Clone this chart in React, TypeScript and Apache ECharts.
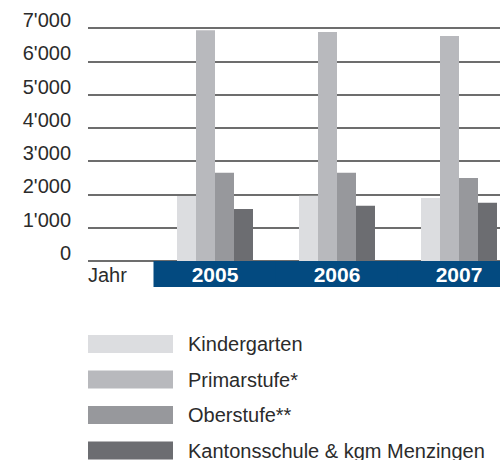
import React, { useEffect, useRef } from "react";
import * as echarts from "echarts";

const years = ["2005", "2006", "2007"];
const seriesNames = ["Kindergarten", "Primarstufe*", "Oberstufe**", "Kantonsschule & kgm Menzingen"];
const kindergarten = [1950, 1960, 1890];
const primarstufe = [6930, 6880, 6760];
const oberstufe = [2650, 2650, 2490];
const kantonsschule = [1560, 1660, 1750];
const yTicks = [0, 1000, 2000, 3000, 4000, 5000, 6000, 7000];
const yTickLabels = ["0", "1'000", "2'000", "3'000", "4'000", "5'000", "6'000", "7'000"];
const colors = ["#dcdde0", "#b8b9bd", "#97989c", "#6c6d71"];

const FONT = "Liberation Sans";
const TEXT = "#2b2b2b";

export default function App() {
  const ref = useRef<HTMLDivElement>(null);
  useEffect(() => {
    document.body.style.margin = "0";
    document.body.style.overflow = "hidden";
    const chart = echarts.init(ref.current!, null, { renderer: "svg" });
    const values = [kindergarten, primarstufe, oberstufe, kantonsschule];
    chart.setOption({
      animation: false,
      grid: [
        { left: 88, right: 0, top: 28, height: 233, outerBoundsMode: "none" },
        { left: 154, width: 366, top: 28, height: 233, outerBoundsMode: "none" },
      ],
      xAxis: [
        { type: "value", gridIndex: 0, show: false, min: 0, max: 1 },
        {
          type: "category",
          gridIndex: 1,
          data: years,
          axisLine: { show: false },
          axisTick: { show: false },
          axisLabel: {
            interval: 0,
            margin: 0,
            color: "#ffffff",
            fontFamily: FONT,
            fontWeight: "bold",
            fontSize: 21,
            backgroundColor: "#034a80",
            width: 123,
            height: 26,
            lineHeight: 26,
            align: "center",
            verticalAlign: "top",
            hideOverlap: false,
          },
        },
      ],
      yAxis: [
        {
          type: "value",
          gridIndex: 0,
          min: 0,
          max: 7000,
          interval: 1000,
          axisLine: { show: false },
          axisTick: { show: false },
          splitLine: { lineStyle: { color: "#3c3c3c", width: 1.5 } },
          axisLabel: {
            margin: 17,
            fontFamily: FONT,
            fontSize: 20,
            color: TEXT,
            verticalAlign: "bottom",
            lineHeight: 16,
            formatter: (v: number) => yTickLabels[yTicks.indexOf(v)] ?? String(v),
          },
        },
        { type: "value", gridIndex: 1, min: 0, max: 7000, interval: 1000, show: false },
      ],
      legend: {
        orient: "vertical",
        left: 88,
        top: 334,
        width: 412,
        height: 160,
        padding: 0,
        itemWidth: 85,
        itemHeight: 18,
        itemGap: 15.5,
        icon: "rect",
        data: seriesNames,
        textStyle: {
          fontFamily: FONT,
          fontSize: 20,
          color: TEXT,
          lineHeight: 18,
          padding: [0, 0, 0, 10],
        },
      },
      graphic: [
        {
          type: "text",
          left: 88,
          top: 265,
          style: { text: "Jahr", fontFamily: FONT, fontSize: 20, fill: TEXT },
        },
      ],
      series: seriesNames.map((name, i) => ({
        name,
        type: "bar",
        xAxisIndex: 1,
        yAxisIndex: 1,
        data: values[i],
        barWidth: 19,
        barGap: "0%",
        itemStyle: { color: colors[i] },
      })),
    });
    return () => chart.dispose();
  }, []);
  return <div ref={ref} style={{ width: 500, height: 460 }} />;
}
